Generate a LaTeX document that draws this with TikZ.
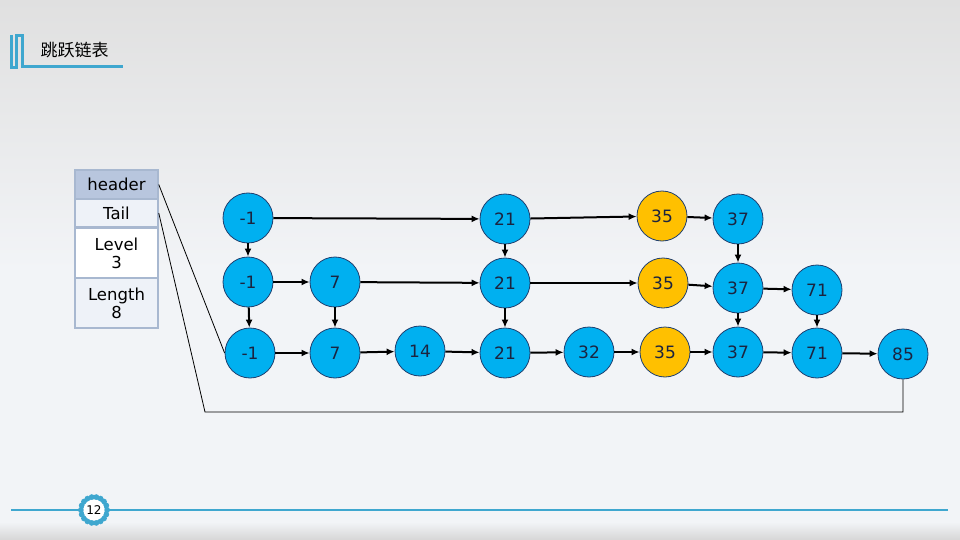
\documentclass[tikz,border=0pt]{standalone}
\usepackage{fontspec}
\setmainfont{DejaVu Sans}
\newfontfamily\cjk{Noto Sans CJK SC}
\usetikzlibrary{arrows.meta}
\definecolor{nodeblue}{HTML}{00B0F0}
\definecolor{nodegold}{HTML}{FFC000}
\definecolor{rimblue}{HTML}{1F3F6F}
\definecolor{textnavy}{HTML}{1B2440}
\definecolor{accent}{HTML}{3FA7CF}
\definecolor{cellhead}{HTML}{B8C6DE}
\definecolor{cellpale}{HTML}{EEF2F8}
\definecolor{cellrim}{HTML}{A8B8D0}
\definecolor{bgtop}{HTML}{E0E0E0}
\definecolor{bgmid}{HTML}{F2F4F7}
\definecolor{bgfoot}{HTML}{D6D6D6}
\begin{document}
\begin{tikzpicture}[x=1pt,y=-1pt,
    elem/.style={circle,draw=rimblue,line width=0.8pt,fill=nodeblue,minimum size=50pt,
        inner sep=0pt,text=textnavy,font=\fontsize{17}{17}\selectfont},
    gold/.style={elem,fill=nodegold},
    link/.style={line width=2pt,-{Latex[length=8pt,width=7pt]}},
    cell/.style={rectangle,draw=cellrim,line width=1.5pt,minimum width=83pt,inner sep=0pt,
        align=center,font=\fontsize{16.5}{18}\selectfont,text=black},
    wire/.style={line width=0.8pt}]
    \useasboundingbox (0,0) rectangle (960,540);
    % background
    \shade[top color=bgtop,bottom color=bgmid] (0,0) rectangle (960,270);
    \fill[bgmid] (0,270) rectangle (960,522);
    \shade[top color=bgmid,bottom color=bgfoot] (0,522) rectangle (960,540);

    % title
    \draw[accent,line width=3pt] (11,35) -- (11,67.5) -- (16.5,67.5) -- (16.5,36) -- (22,36)
        -- (22,66.5) -- (123,66.5);
    \node[anchor=west,font=\cjk\fontsize{17}{17}\selectfont] (title) at (37,50) {跳跃链表};

    % header table
    \node[cell,fill=cellhead,minimum height=29pt] (hdr) at (116.5,184.5) {header};
    \node[cell,fill=cellpale,minimum height=28pt] (tail) at (116.5,213) {Tail};
    \node[cell,fill=white,minimum height=50pt] (lvl) at (116.5,253) {Level\\3};
    \node[cell,fill=cellpale,minimum height=50pt] (len) at (116.5,303) {Length\\8};

    % level 3
    \node[elem] (t1) at (248,218) {-1};
    \node[elem] (t21) at (505,219) {21};
    \node[gold] (t35) at (662,216) {35};
    \node[elem] (t37) at (738,219) {37};
    % level 2
    \node[elem] (m1) at (248,282) {-1};
    \node[elem] (m7) at (335,282) {7};
    \node[elem] (m21) at (505,283) {21};
    \node[gold] (m35) at (663,283) {35};
    \node[elem] (m37) at (738,288) {37};
    \node[elem] (m71) at (817,290) {71};
    % level 1
    \node[elem] (b1) at (250,353) {-1};
    \node[elem] (b7) at (335,353) {7};
    \node[elem] (b14) at (420,351) {14};
    \node[elem] (b21) at (505,353) {21};
    \node[elem] (b32) at (589,352) {32};
    \node[gold] (b35) at (665,352) {35};
    \node[elem] (b37) at (738,352) {37};
    \node[elem] (b71) at (817,353) {71};
    \node[elem] (b85) at (903,354) {85};

    \draw[link] (t1) -- (t21);
    \draw[link] (t21) -- (t35);
    \draw[link] (t35) -- (t37);
    \draw[link] (t1) -- (m1);
    \draw[link] (t21) -- (m21);
    \draw[link] (t37) -- (m37);

    \draw[link] (m1) -- (m7);
    \draw[link] (m7) -- (m21);
    \draw[link] (m21) -- (m35);
    \draw[link] (m35) -- (m37);
    \draw[link] (m37) -- (m71);
    \draw[link] (m1) -- (b1);
    \draw[link] (m7) -- (b7);
    \draw[link] (m21) -- (b21);
    \draw[link] (m37) -- (b37);
    \draw[link] (m71) -- (b71);

    \draw[link] (b1) -- (b7);
    \draw[link] (b7) -- (b14);
    \draw[link] (b14) -- (b21);
    \draw[link] (b21) -- (b32);
    \draw[link] (b32) -- (b35);
    \draw[link] (b35) -- (b37);
    \draw[link] (b37) -- (b71);
    \draw[link] (b71) -- (b85);

    % header and tail pointers
    \draw[wire] (hdr.east) -- (b1.west);
    \coordinate (tl) at (205,412);
    \draw[wire] (tail.east) -- (tl) -| (b85.south);

    % page number
    \coordinate (pgc) at (94,510);
    \foreach \a in {0,20,...,340}
        \fill[accent] (pgc) ++(\a:13pt) circle (3pt);
    \node[circle,fill=white,minimum size=21pt,inner sep=0pt,
        font=\fontsize{12}{12}\selectfont] (pg) at (pgc) {12};
    \coordinate (rl) at (11,510);
    \coordinate (rr) at (948,510);
    \draw[accent,line width=2pt] (rl) -- (pg.west);
    \draw[accent,line width=2pt] (pg.east) -- (rr);
\end{tikzpicture}
\end{document}
